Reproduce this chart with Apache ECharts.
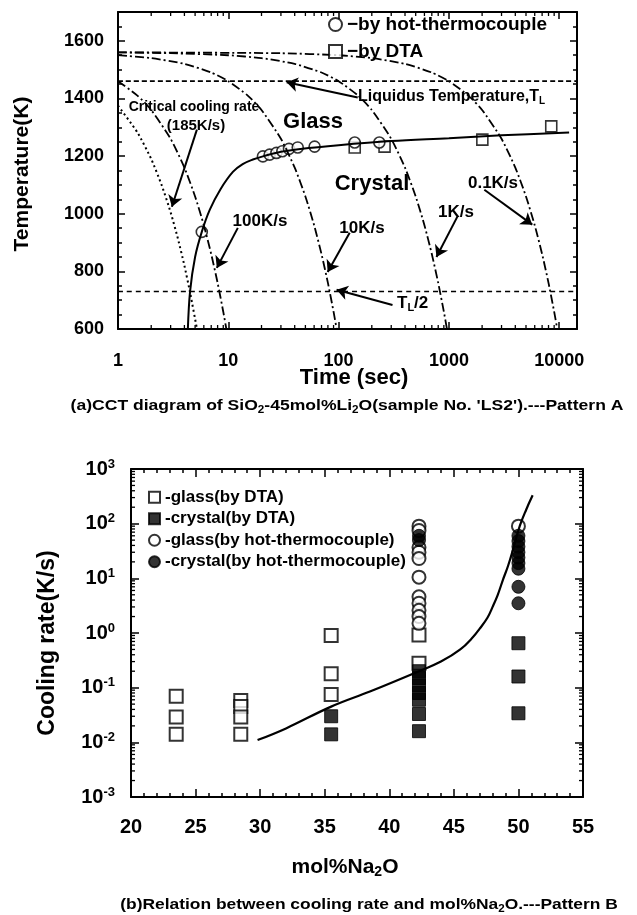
<!DOCTYPE html>
<html>
<head>
<meta charset="utf-8">
<title>CCT diagram / cooling rate</title>
<script src="https://cdn.jsdelivr.net/npm/echarts@6/dist/echarts.min.js"></script>
<style>
  html, body { margin: 0; padding: 0; background: #fff; }
  #main { width: 637px; height: 915px; }
</style>
</head>
<body>
<div id="main"></div>
<script>
// ---------- (a) CCT diagram data: [time(s), temperature(K)] ----------
const hotTcPoints = [
  [5.75, 937], [20.6, 1199], [23.7, 1205], [27.3, 1211], [30.9, 1217], [35.5, 1225],
  [42.6, 1230], [60.6, 1233], [140, 1247], [234, 1247]
];
const dtaPoints = [[140, 1230], [261, 1233], [2010, 1257], [8470, 1303]];
const hotTcCurve = [
  [4.3, 600], [4.5, 730], [5.0, 850], [5.75, 937], [6.8, 1014], [8.5, 1085], [11, 1145],
  [13.5, 1172], [16.7, 1188], [20.6, 1199], [30, 1215], [45, 1225], [100, 1238], [300, 1252],
  [1000, 1262], [3000, 1272], [12300, 1282]
];
const cool01 = [
  [1, 1560], [30, 1557], [100, 1550], [200, 1540], [400, 1520], [700, 1490], [1000, 1460],
  [1500, 1410], [2000, 1360], [3000, 1260], [4000, 1160], [5000, 1060], [6000, 960],
  [7000, 860], [8000, 760], [9000, 660], [9600, 600]
];
const cool1 = [
  [1, 1560], [3, 1557], [10, 1550], [20, 1540], [40, 1520], [70, 1490], [100, 1460],
  [150, 1410], [200, 1360], [300, 1260], [400, 1160], [500, 1060], [600, 960],
  [700, 860], [800, 760], [900, 660], [960, 600]
];
const cool10 = [
  [1, 1550], [2, 1540], [4, 1520], [7, 1490], [10, 1460], [15, 1410], [20, 1360],
  [30, 1260], [40, 1160], [50, 1060], [60, 960], [70, 860], [80, 760], [90, 660], [96, 600]
];
const cool100 = [
  [1, 1460], [1.5, 1410], [2, 1360], [3, 1260], [4, 1160], [5, 1060], [6, 960],
  [7, 860], [8, 760], [9, 660], [9.6, 600]
];
const coolCritical = [
  [1, 1375], [1.5, 1282], [2, 1190], [2.5, 1097], [3, 1005], [3.5, 912], [4, 820],
  [4.5, 727], [5.2, 600]
];
const liquidusT = 1460;
const halfLiquidusT = 730;
const timeTickLabels = ['1', '10', '100', '1000', '10000'];

// ---------- (b) cooling rate vs mol%Na2O: [mol%, K/s] ----------
const glassDta = [
  [23.5, 0.07], [23.5, 0.029], [23.5, 0.014],
  [28.5, 0.058], [28.5, 0.045], [28.5, 0.029], [28.5, 0.014],
  [35.5, 0.9], [35.5, 0.18], [35.5, 0.075],
  [42.3, 0.92], [42.3, 0.28]
];
const crystalDta = [
  [35.5, 0.03], [35.5, 0.014],
  [42.3, 0.2], [42.3, 0.15], [42.3, 0.11], [42.3, 0.08], [42.3, 0.06], [42.3, 0.033], [42.3, 0.016],
  [50, 0.65], [50, 0.16], [50, 0.034]
];
const glassHotTc = [
  [42.3, 90], [42.3, 75], [42.3, 37], [42.3, 30], [42.3, 23], [42.3, 10.5],
  [42.3, 4.6], [42.3, 3.5], [42.3, 2.6], [42.3, 2.0], [42.3, 1.5], [50, 90]
];
const crystalHotTc = [
  [42.3, 60], [42.3, 50],
  [50, 60], [50, 48], [50, 38], [50, 30], [50, 24], [50, 19], [50, 15], [50, 7], [50, 3.5]
];
const criticalRateCurve = [
  [29.8, 0.011], [32, 0.018], [35.5, 0.045], [38.5, 0.085], [42.3, 0.2], [44, 0.3],
  [45.5, 0.5], [46.5, 0.85], [47, 1.2], [47.6, 1.9], [48, 3], [48.4, 5], [48.8, 9.4],
  [49.2, 17], [49.6, 35], [50.1, 90], [50.6, 180], [51.1, 330]
];
const rateExponents = ['-3', '-2', '-1', '0', '1', '2', '3'];

// 注释箭头 (数据坐标)
const arrowsTop = [
  [[5.19, 1292], [3.08, 1024]],
  [[12.2, 951], [7.87, 812]],
  [[126, 934], [79.6, 798]],
  [[1194, 990], [771, 850]],
  [[2095, 1083], [5700, 962]],
  [[308, 683], [95.9, 736]],
  [[149, 1403], [33.8, 1456]]
];

const FONT = '"Liberation Sans", Arial, Helvetica, sans-serif';
const DASH_DOT = [9, 3, 2, 3];

// log轴的次刻度 2..9 x 10^n
function logMinors(e0, e1, maxV) {
  const out = [];
  for (let e = e0; e < e1; e++) {
    for (let m = 2; m <= 9; m++) {
      const v = m * Math.pow(10, e);
      if (v < maxV) out.push(v);
    }
  }
  return out;
}

function curve(data, type, width) {
  return {
    type: 'line', xAxisIndex: 0, yAxisIndex: 0, data: data,
    symbol: 'none', smooth: 0.2, silent: true,
    lineStyle: { color: '#000', width: width, type: type }
  };
}

function text(x, y, str, size, extra) {
  const e = Object.assign({
    type: 'text', x: x, y: y, silent: true,
    style: {
      text: str, fontSize: size, fontWeight: 'bold', fontFamily: FONT, fill: '#000',
      align: 'center', verticalAlign: 'middle',
      rich: {
        s: { fontSize: Math.round(size * 0.65), fontWeight: 'bold', fontFamily: FONT, padding: [Math.round(size * 0.5), 0, 0, 0] }
      }
    }
  }, extra || {});
  if (extra && extra.align) e.style.align = extra.align;
  delete e.align;
  return e;
}

const axisLine = { lineStyle: { color: '#000', width: 2 } };
const tickStyle = { color: '#000', width: 1.5 };
const labelStyle = { color: '#000', fontWeight: 'bold', fontFamily: FONT };

const option = {
  animation: false,
  backgroundColor: '#fff',
  grid: [
    { left: 118, right: 60, top: 12, bottom: 586, outerBoundsMode: 'none' },
    { left: 131, right: 54, top: 469, bottom: 118, outerBoundsMode: 'none' }
  ],
  xAxis: [
    {
      gridIndex: 0, type: 'log', logBase: 10, min: 1, max: 14500,
      axisLine: axisLine, splitLine: { show: false },
      axisTick: { inside: true, length: 7, lineStyle: tickStyle },
      axisLabel: Object.assign({
        fontSize: 18, margin: 23, showMaxLabel: false, hideOverlap: false,
        formatter: v => timeTickLabels[Math.round(Math.log10(v))] || ''
      }, labelStyle)
    },
    {
      gridIndex: 0, type: 'log', logBase: 10, min: 1, max: 14500, position: 'top',
      axisLine: axisLine, splitLine: { show: false },
      axisTick: { inside: true, length: 7, lineStyle: tickStyle },
      axisLabel: { show: false }
    },
    {
      gridIndex: 1, type: 'value', min: 20, max: 55, interval: 5,
      axisLine: axisLine, splitLine: { show: false },
      axisTick: { inside: true, length: 8, lineStyle: tickStyle },
      minorTick: { show: true, splitNumber: 5, length: 4, lineStyle: tickStyle },
      axisLabel: Object.assign({ fontSize: 20, margin: 20 }, labelStyle)
    },
    {
      gridIndex: 1, type: 'value', min: 20, max: 55, interval: 5, position: 'top',
      axisLine: axisLine, splitLine: { show: false },
      axisTick: { inside: true, length: 8, lineStyle: tickStyle },
      minorTick: { show: true, splitNumber: 5, length: 4, lineStyle: tickStyle },
      axisLabel: { show: false }
    }
  ],
  yAxis: [
    {
      gridIndex: 0, type: 'value', min: 600, max: 1700, interval: 200,
      axisLine: axisLine, splitLine: { show: false },
      axisTick: { inside: true, length: 7, lineStyle: tickStyle },
      minorTick: { show: true, splitNumber: 4, length: 4, lineStyle: tickStyle },
      axisLabel: Object.assign({ fontSize: 18, margin: 14, showMaxLabel: false, formatter: v => String(v) }, labelStyle)
    },
    {
      gridIndex: 0, type: 'value', min: 600, max: 1700, interval: 200, position: 'right',
      axisLine: axisLine, splitLine: { show: false },
      axisTick: { inside: true, length: 7, lineStyle: tickStyle },
      minorTick: { show: true, splitNumber: 4, length: 4, lineStyle: tickStyle },
      axisLabel: { show: false }
    },
    {
      gridIndex: 1, type: 'log', logBase: 10, min: 0.001, max: 1000,
      axisLine: axisLine, splitLine: { show: false },
      axisTick: { inside: true, length: 8, lineStyle: tickStyle },
      axisLabel: Object.assign({
        margin: 16, hideOverlap: false,
        formatter: v => '{b|10}{p|' + rateExponents[Math.round(Math.log10(v)) + 3] + '}',
        rich: {
          b: { fontSize: 20, fontWeight: 'bold', fontFamily: FONT, color: '#000' },
          p: { fontSize: 13, fontWeight: 'bold', fontFamily: FONT, color: '#000', padding: [0, 0, 10, 0] }
        }
      }, labelStyle)
    },
    {
      gridIndex: 1, type: 'log', logBase: 10, min: 0.001, max: 1000, position: 'right',
      axisLine: axisLine, splitLine: { show: false },
      axisTick: { inside: true, length: 8, lineStyle: tickStyle },
      axisLabel: { show: false }
    }
  ],
  legend: [
    {
      data: ['\u2212by hot-thermocouple', '\u2212by DTA'],
      orient: 'vertical', left: 328, top: 14, padding: 0, itemGap: 6,
      itemWidth: 13, itemHeight: 13, selectedMode: false,
      textStyle: { fontSize: 19, lineHeight: 21, fontWeight: 'bold', fontFamily: FONT, color: '#000' }
    },
    {
      data: ['-glass(by DTA)', '-crystal(by DTA)', '-glass(by hot-thermocouple)', '-crystal(by hot-thermocouple)'],
      orient: 'vertical', left: 148, top: 488, padding: 0, itemGap: 3,
      itemWidth: 11, itemHeight: 11, selectedMode: false,
      textStyle: { fontSize: 17, lineHeight: 18.5, fontWeight: 'bold', fontFamily: FONT, color: '#000' }
    }
  ],
  series: [
    // 冷却曲线
    curve(cool01, DASH_DOT, 1.8),
    curve(cool1, DASH_DOT, 1.8),
    curve(cool10, DASH_DOT, 1.8),
    curve(cool100, DASH_DOT, 1.8),
    curve(coolCritical, [2, 3], 2),
    curve([[1, halfLiquidusT], [14500, halfLiquidusT]], [5, 4], 1.6),
    Object.assign(curve([[1, liquidusT], [14500, liquidusT]], [5, 3], 1.6), {
      markLine: {
        silent: true, symbol: ['none', 'arrow'], symbolSize: 11,
        lineStyle: { color: '#000', width: 2, type: 'solid' },
        label: { show: false },
        data: arrowsTop.map(a => [{ coord: a[0] }, { coord: a[1] }])
      }
    }),
    Object.assign(curve(hotTcCurve, 'solid', 2), { smooth: 0.35 }),
    {
      // 对数轴次刻度 (上下两边)
      type: 'custom', xAxisIndex: 0, yAxisIndex: 0, silent: true,
      data: logMinors(0, 5, 14500).map(v => [v, 600]),
      renderItem: function (params, api) {
        const a = api.coord([api.value(0), 600]);
        const b = api.coord([api.value(0), 1700]);
        return {
          type: 'group', children: [
            { type: 'line', shape: { x1: a[0], y1: a[1], x2: a[0], y2: a[1] - 4 }, style: { stroke: '#000', lineWidth: 1.3 } },
            { type: 'line', shape: { x1: b[0], y1: b[1], x2: b[0], y2: b[1] + 4 }, style: { stroke: '#000', lineWidth: 1.3 } }
          ]
        };
      }
    },
    {
      name: '\u2212by DTA', type: 'scatter', xAxisIndex: 0, yAxisIndex: 0,
      data: dtaPoints, symbol: 'rect', symbolSize: 11,
      itemStyle: { color: '#fff', borderColor: '#000', borderWidth: 1.6 }
    },
    {
      name: '\u2212by hot-thermocouple', type: 'scatter', xAxisIndex: 0, yAxisIndex: 0,
      data: hotTcPoints, symbol: 'circle', symbolSize: 11,
      itemStyle: { color: '#fff', borderColor: '#000', borderWidth: 1.6 }
    },

    // (b)
    {
      type: 'line', xAxisIndex: 2, yAxisIndex: 2, data: criticalRateCurve,
      symbol: 'none', smooth: 0.4, silent: true,
      lineStyle: { color: '#000', width: 2.2 }
    },
    {
      type: 'custom', xAxisIndex: 2, yAxisIndex: 2, silent: true,
      data: logMinors(-3, 3, 1000).map(v => [20, v]),
      renderItem: function (params, api) {
        const a = api.coord([20, api.value(1)]);
        const b = api.coord([55, api.value(1)]);
        return {
          type: 'group', children: [
            { type: 'line', shape: { x1: a[0], y1: a[1], x2: a[0] + 4, y2: a[1] }, style: { stroke: '#000', lineWidth: 1.3 } },
            { type: 'line', shape: { x1: b[0], y1: b[1], x2: b[0] - 4, y2: b[1] }, style: { stroke: '#000', lineWidth: 1.3 } }
          ]
        };
      }
    },
    {
      name: '-glass(by DTA)', type: 'scatter', xAxisIndex: 2, yAxisIndex: 2,
      data: glassDta, symbol: 'rect', symbolSize: 13,
      itemStyle: { color: '#fff', borderColor: '#000', borderWidth: 2 }
    },
    {
      name: '-crystal(by DTA)', type: 'scatter', xAxisIndex: 2, yAxisIndex: 2,
      data: crystalDta, symbol: 'rect', symbolSize: 13,
      itemStyle: { color: '#000', borderColor: '#000', borderWidth: 1 }
    },
    {
      name: '-glass(by hot-thermocouple)', type: 'scatter', xAxisIndex: 2, yAxisIndex: 2,
      data: glassHotTc, symbol: 'circle', symbolSize: 13,
      itemStyle: { color: '#fff', borderColor: '#000', borderWidth: 2 }
    },
    {
      name: '-crystal(by hot-thermocouple)', type: 'scatter', xAxisIndex: 2, yAxisIndex: 2,
      data: crystalHotTc, symbol: 'circle', symbolSize: 13,
      itemStyle: { color: '#000', borderColor: '#000', borderWidth: 1 }
    }
  ],
  graphic: [
    text(22, 174, 'Temperature(K)', 21, { rotation: Math.PI / 2 }),
    text(354, 378, 'Time (sec)', 22),
    text(347, 406, '(a)CCT diagram of SiO{s|2}-45mol%Li{s|2}O(sample No. \'LS2\').---Pattern A', 15, { scaleX: 1.17 }),
    text(194, 107, 'Critical cooling rate', 14),
    text(196, 126, '(185K/s)', 15),
    text(313, 122, 'Glass', 22),
    text(372, 184, 'Crystal', 22),
    text(358, 97, 'Liquidus Temperature,T{s|L}', 16, { align: 'left' }),
    text(260, 221, '100K/s', 17),
    text(362, 228, '10K/s', 17),
    text(456, 212, '1K/s', 17),
    text(493, 183, '0.1K/s', 17),
    text(397, 303, 'T{s|L}/2', 17, { align: 'left' }),
    text(48, 643, 'Cooling rate(K/s)', 23, { rotation: Math.PI / 2 }),
    text(345, 867, 'mol%Na{s|2}O', 21),
    text(369, 905, '(b)Relation between cooling rate and mol%Na{s|2}O.---Pattern B', 15, { scaleX: 1.16 })
  ]
};

const chart = echarts.init(document.getElementById('main'));
chart.setOption(option);
</script>
</body>
</html>
